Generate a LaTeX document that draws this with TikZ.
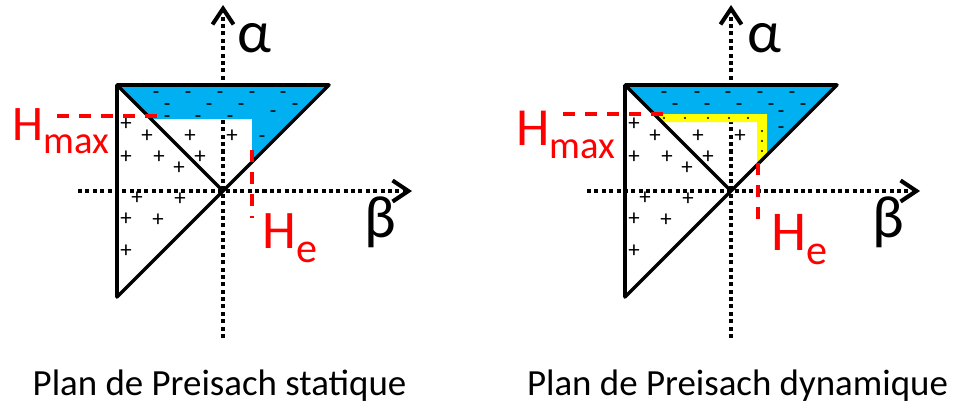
\documentclass[tikz,border=0pt]{standalone}
\usepackage{fontspec}
\setmainfont{Carlito}
\usetikzlibrary{arrows.meta}

\definecolor{preiblue}{RGB}{0,176,240}
\definecolor{preiyellow}{RGB}{255,255,0}

% H with a lowered index: size, index size, drop, index
\newcommand{\Hlab}[4]{{\fontsize{#1}{#1}\selectfont H\raisebox{-#3}{\fontsize{#2}{#2}\selectfont #4}}}

\def\pluslist{-97/67, -76/55, -33/55, 9/55, -97/34, -64/34, -23/34, -44/23,
  -86/-7, -43/-8, -97/-28, -65/-29, -97/-60}

\begin{document}
\begin{tikzpicture}[
  x=0.02cm, y=0.02cm,
  axis/.style={line width=2.3pt, dash pattern=on 2.3pt off 1.9pt, -{Straight Barb[length=9pt, width=12pt]}},
  tri/.style={line width=2pt, line join=round},
  level/.style={red, line width=1.8pt, dash pattern=on 7pt off 5.5pt},
  plus/.style={font=\fontsize{13}{13}\selectfont, inner sep=0pt},
  minus/.style={font=\fontsize{12}{12}\selectfont, inner sep=0pt, anchor=base, yshift=-3pt},
  axlbl/.style={font=\fontsize{34}{34}\selectfont, inner sep=0pt},
  hlbl/.style={red, anchor=base west, inner sep=0pt},
  caption/.style={font=\fontsize{21}{22}\selectfont, anchor=base, inner sep=0pt}
]
\useasboundingbox (0,0) rectangle (954,407);

% static plane
\begin{scope}[shift={(223,216)}]
  \coordinate (sO) at (0,0);
  \coordinate (sA) at (-106,106);
  \coordinate (sB) at (106,106);
  \coordinate (sC) at (-106,-106);
  \coordinate (sBeta0) at (-145,0);
  \coordinate (sBeta1) at (189,0);
  \coordinate (sAlpha0) at (0,-147);
  \coordinate (sAlpha1) at (0,186);
  \coordinate (sHm0) at (-166,75);
  \coordinate (sHm1) at (-63,75);
  \coordinate (sHe0) at (29,41);
  \coordinate (sHe1) at (29,-27);

  \draw[axis] (sBeta0) -- (sBeta1);
  \draw[axis] (sAlpha0) -- (sAlpha1);
  \fill[preiblue] (sA) -- (sB) -- (29,29) -- (29,72) -- (-72,72) -- cycle;

  \foreach \x/\y in \pluslist
    \node[plus] at (\x,\y) {+};
  \foreach \x/\y in {-67/98, -35/98, -3/98, 29/98, 60/98, -56/86, -14/86, 18/86, 72/86,
                     50/79, -56/74, -25/74, 7/74, 39/54}
    \node[minus] at (\x,\y) {-};

  \draw[tri] (sA) -- (sB) -- (sC) -- cycle;
  \draw[tri] (sA) -- (sO);
  \draw[level] (sHm0) -- (sHm1);
  \draw[level] (sHe0) -- (sHe1);

  \node[axlbl] (sAlpha) at (31,153) {α};
  \node[axlbl] (sBeta) at (157,-31) {β};
  \node[hlbl] (sHmax) at (-211,51) {\Hlab{28.3}{22}{7.4pt}{max}};
  \node[hlbl] (sHe) at (39,-57) {\Hlab{30.9}{24}{8.5pt}{e}};
  \node[caption] (sCap) at (-3.5,-204) {Plan de Preisach statique};
\end{scope}

% dynamic plane
\begin{scope}[shift={(731,216)}]
  \coordinate (dO) at (0,0);
  \coordinate (dA) at (-106,106);
  \coordinate (dB) at (106,106);
  \coordinate (dC) at (-106,-106);
  \coordinate (dBeta0) at (-144,0);
  \coordinate (dBeta1) at (189,0);
  \coordinate (dAlpha0) at (0,-147);
  \coordinate (dAlpha1) at (0,186);
  \coordinate (dHm0) at (-168,77);
  \coordinate (dHm1) at (-63,77);
  \coordinate (dHe0) at (27,28);
  \coordinate (dHe1) at (27,-32);

  \draw[axis] (dBeta0) -- (dBeta1);
  \draw[axis] (dAlpha0) -- (dAlpha1);
  \fill[preiblue] (dA) -- (dB) -- (36,36) -- (36,77) -- (-77,77) -- cycle;
  \fill[preiyellow] (-77,77) -- (36,77) -- (36,36) -- (26,26) -- (26,69) -- (-69,69) -- cycle;
  \foreach \x/\y in {-67/73, -46/73, -23/73, -2/73, 17/73, 31/60, 31/50, 31/40}
    \fill (\x,\y) circle (1.2);

  \foreach \x/\y in \pluslist
    \node[plus] at (\x,\y) {+};
  \foreach \x/\y in {-67/98, -34/98, -3/98, 29/98, 61/98, -56/86, -24/86, 8/86, 40/86, 72/86,
                     50/79, 50/63}
    \node[minus] at (\x,\y) {-};

  \draw[tri] (dA) -- (dB) -- (dC) -- cycle;
  \draw[tri] (dA) -- (dO);
  \draw[level] (dHm0) -- (dHm1);
  \draw[level] (dHe0) -- (dHe1);

  \node[axlbl] (dAlpha) at (33,153) {α};
  \node[axlbl] (dBeta) at (157,-31) {β};
  \node[hlbl] (dHmax) at (-215,46) {\Hlab{30.5}{22}{7.4pt}{max}};
  \node[hlbl] (dHe) at (40,-59) {\Hlab{32}{24}{8.5pt}{e}};
  \node[caption] (dCap) at (6.5,-204) {Plan de Preisach dynamique};
\end{scope}
\end{tikzpicture}
\end{document}
